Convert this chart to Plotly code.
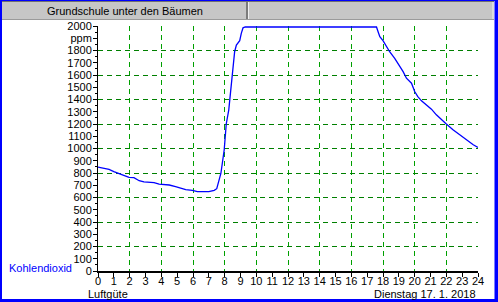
import plotly.graph_objects as go

# ---- data ----
hours = [0.0, 0.7, 1.0, 1.54, 1.96, 2.27, 2.6, 2.9, 3.54, 3.86, 4.5, 4.9, 5.54, 5.96, 6.28, 7.0, 7.34, 7.5,
         7.76, 7.97, 8.05, 8.1, 8.26, 8.32, 8.42, 8.52, 8.63, 8.74, 8.95, 9.05, 9.16, 9.3, 12.0, 15.0, 17.59,
         17.69, 17.8, 18.0, 18.2, 18.42, 18.74, 18.95, 19.27, 19.48, 19.8, 20.0, 20.2, 20.43, 20.74, 21.06,
         21.37, 21.69, 22.0, 22.42, 22.84, 23.26, 23.7, 24.0]
ppm = [848, 829, 812, 782, 765, 762, 737, 727, 722, 710, 702, 688, 665, 658, 648, 648, 658, 672,
       796, 988, 1085, 1200, 1316, 1397, 1546, 1696, 1790, 1845, 1880, 1940, 1985, 1992, 1992, 1992, 1992,
       1953, 1912, 1880, 1831, 1790, 1736, 1696, 1627, 1574, 1533, 1465, 1424, 1389, 1356, 1321,
       1275, 1234, 1200, 1153, 1112, 1072, 1031, 1008]

y_tickvals = list(range(0, 2001, 100))
y_ticktext = [str(v) if v != 1900 else "ppm" for v in y_tickvals]
x_tickvals = list(range(0, 25))
x_ticktext = [str(v) for v in x_tickvals]

title_text = "Grundschule unter den Bäumen"
series_name = "Kohlendioxid"
x_caption = "Luftgüte"
date_text = "Dienstag 17. 1. 2018"

# ---- layout geometry ----
W, H = 498, 302
L, R, T, B = 98, 20, 26, 31
PW, PH = W - L - R, H - T - B

def px(x):
    return (x - L) / PW

def py(y):
    return (H - B - y) / PH

FONT = "Liberation Sans, Arial, sans-serif"
GREEN = "#008000"

fig = go.Figure()
fig.add_trace(go.Scatter(x=[None], y=[None], xaxis="x", yaxis="y", showlegend=False, hoverinfo="skip"))
fig.add_trace(go.Scatter(x=hours, y=ppm, mode="lines", xaxis="x2", yaxis="y2",
                         line=dict(color="#0000ff", width=1.3), showlegend=False))

fig.update_layout(
    width=W, height=H, margin=dict(l=L, r=R, t=T, b=B),
    paper_bgcolor="white", plot_bgcolor="white",
    font=dict(family=FONT, size=11, color="black"),
    xaxis=dict(range=[0, 24], tickmode="array", tickvals=x_tickvals, ticktext=x_ticktext,
               showgrid=False, zeroline=False, showline=True, linecolor="black", linewidth=2,
               ticks="outside", ticklen=4, tickcolor="black", tickwidth=1, ticklabelstandoff=-5,
               tickfont=dict(family=FONT, size=11, color="black"), fixedrange=True),
    yaxis=dict(range=[0, 2000], tickmode="array", tickvals=y_tickvals, ticktext=y_ticktext,
               showgrid=False, zeroline=False, showline=True, linecolor="black", linewidth=1,
               ticks="outside", ticklen=4, tickcolor="black", tickwidth=1, ticklabelstandoff=-1,
               minor=dict(dtick=50, tick0=0, ticks="outside", ticklen=2, tickcolor="black", showgrid=False),
               tickfont=dict(family=FONT, size=11, color="black"), fixedrange=True),
    xaxis2=dict(range=[0, 24], overlaying="x", anchor="y2", dtick=2, tick0=0, showgrid=True,
                gridcolor="#00a000", griddash="5px,4px", gridwidth=1.2, showticklabels=False,
                ticks="", zeroline=False, showline=False, fixedrange=True),
    yaxis2=dict(range=[0, 2000], overlaying="y", anchor="x2", dtick=200, tick0=0, showgrid=True,
                gridcolor=GREEN, griddash="5px,4px", gridwidth=1, showticklabels=False,
                ticks="", zeroline=False, showline=False, fixedrange=True),
)

shapes = []
# header bar
shapes.append(dict(type="rect", xref="paper", yref="paper", x0=px(2), x1=px(494), y0=py(1), y1=py(20),
                   fillcolor="#c6c6c6", line=dict(width=0), layer="above"))
shapes.append(dict(type="line", xref="paper", yref="paper", x0=px(2), x1=px(494), y0=py(1.5), y1=py(1.5),
                   line=dict(color="#707070", width=1), layer="above"))
shapes.append(dict(type="line", xref="paper", yref="paper", x0=px(2), x1=px(494), y0=py(19.5), y1=py(19.5),
                   line=dict(color="#9a9a9a", width=1), layer="above"))
shapes.append(dict(type="line", xref="paper", yref="paper", x0=px(247), x1=px(247), y0=py(2), y1=py(19),
                   line=dict(color="#303030", width=1), layer="above"))
shapes.append(dict(type="line", xref="paper", yref="paper", x0=px(248.5), x1=px(248.5), y0=py(2), y1=py(19),
                   line=dict(color="#f0f0f0", width=1), layer="above"))
shapes.append(dict(type="line", xref="paper", yref="paper", x0=px(493), x1=px(493), y0=py(2), y1=py(19),
                   line=dict(color="#f0f0f0", width=1), layer="above"))
# blue frame
BLUE = "#0000ff"
shapes.append(dict(type="rect", xref="paper", yref="paper", x0=px(0), x1=px(2), y0=py(0), y1=py(302),
                   fillcolor=BLUE, line=dict(width=0), layer="above"))
shapes.append(dict(type="rect", xref="paper", yref="paper", x0=px(494.5), x1=px(498), y0=py(0), y1=py(302),
                   fillcolor=BLUE, line=dict(width=0), layer="above"))
shapes.append(dict(type="rect", xref="paper", yref="paper", x0=px(0), x1=px(498), y0=py(0), y1=py(1),
                   fillcolor=BLUE, line=dict(width=0), layer="above"))
shapes.append(dict(type="rect", xref="paper", yref="paper", x0=px(0), x1=px(498), y0=py(299), y1=py(302),
                   fillcolor=BLUE, line=dict(width=0), layer="above"))
fig.update_layout(shapes=shapes)

ann = []
ann.append(dict(text=title_text, xref="paper", yref="paper", x=px(125), y=py(11), showarrow=False,
                xanchor="center", yanchor="middle", font=dict(family=FONT, size=11, color="black")))
ann.append(dict(text=series_name, xref="paper", yref="paper", x=px(7), y=py(268), showarrow=False,
                xanchor="left", yanchor="middle", font=dict(family=FONT, size=11, color="#0000ff")))
ann.append(dict(text=x_caption, xref="paper", yref="paper", x=px(86), y=py(293.5), showarrow=False,
                xanchor="left", yanchor="middle", font=dict(family=FONT, size=11, color="black")))
ann.append(dict(text=date_text, xref="paper", yref="paper", x=px(478), y=py(293.5), showarrow=False,
                xanchor="right", yanchor="middle", font=dict(family=FONT, size=11, color="black")))
fig.update_layout(annotations=ann)

fig.write_html("out.html", config={"displayModeBar": False})
